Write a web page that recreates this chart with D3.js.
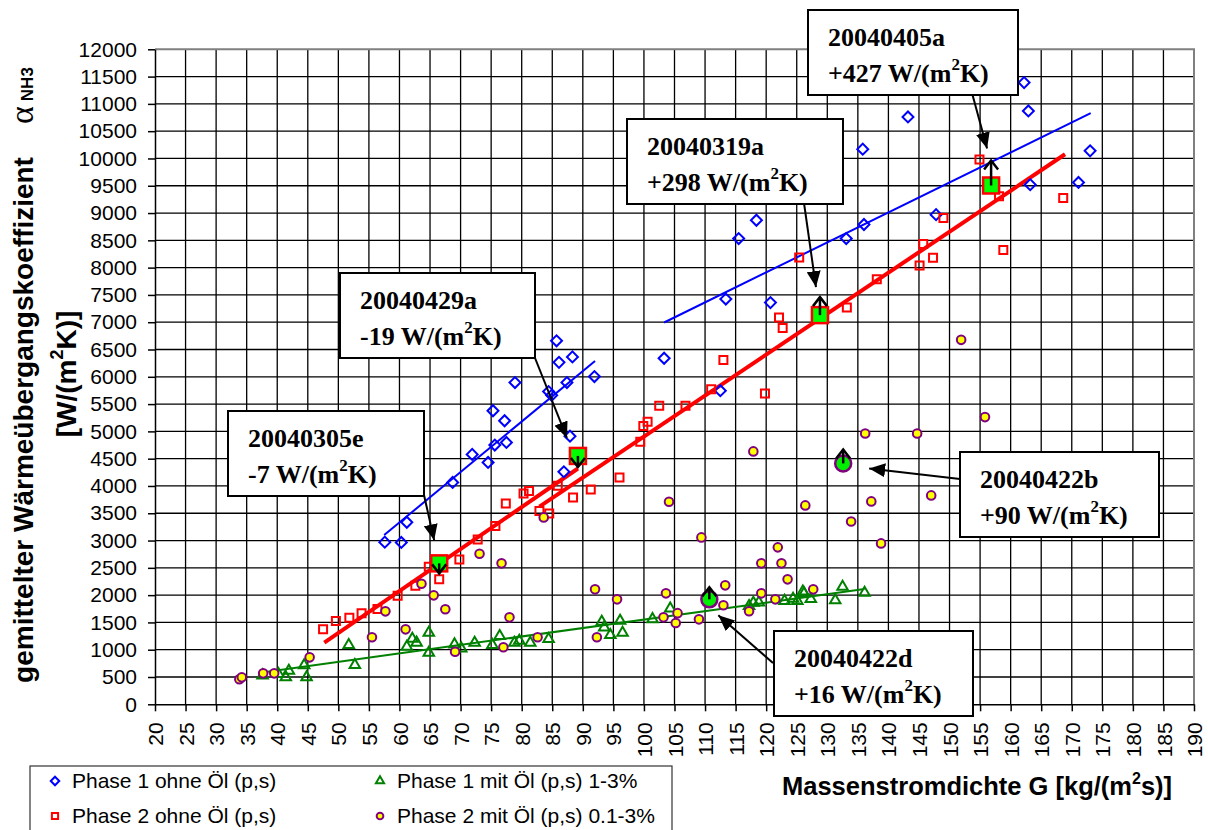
<!DOCTYPE html>
<html>
<head>
<meta charset="utf-8">
<script src="https://cdn.jsdelivr.net/npm/d3@7"></script>
<style>
  body { margin: 0; background: #fff; }
  text { font-family: "Liberation Sans", Arial, sans-serif; }
  .serif { font-family: "Liberation Serif", "Times New Roman", serif; font-weight: bold; }
</style>
</head>
<body>
<svg id="chart" width="1208" height="830"></svg>
<script>

// Tick values for both axes
var xTickValues = d3.range(20, 195, 5);
var yTickValues = d3.range(0, 12500, 500);

// Phase 1 ohne Öl (p,s)  [G, alpha]
var phase1 = [[57.6,2970],[60.3,2965],[61.2,3335],[68.7,4065],[71.9,4578],[74.5,4431],[75.6,4750],
  [75.3,5378],[77.2,5195],[77.5,4797],[78.9,5895],[84.4,5730],[84.9,5660],[85.7,6660],[86.1,6265],
  [87.4,5895],[88.3,6365],[91.9,6005],[87.9,4913],[86.9,4259],[103.3,6340],[112.5,5745],[113.4,7425],
  [120.7,7360],[115.5,8533],[118.4,8868],[133.1,8533],[136.0,8790],[135.8,10170],[143.2,10760],
  [147.8,8970],[162.2,11390],[162.9,10870],[163.2,9520],[171.1,9560],[173.0,10140]];

// Phase 2 ohne Öl (p,s)
var phase2 = [[47.5,1373],[49.6,1525],[51.8,1586],[53.8,1666],[56.4,1745],[59.7,1989],[62.6,2170],
  [64.8,2520],[66.5,2289],[69.8,2655],[72.8,3021],[75.7,3265],[77.4,3680],[80.3,3864],[81.2,3906],
  [82.9,3540],[84.5,3497],[85.9,4003],[88.4,3790],[91.3,3937],[96.0,4155],[99.4,4810],[99.9,5100],
  [100.6,5175],[102.5,5470],[106.8,5470],[111.0,5770],[113.0,6310],[119.8,5695],[122.1,7085],
  [122.7,6896],[125.4,8185],[133.2,7270],[138.1,7785],[145.1,8040],[145.7,8435],[147.3,8180],
  [149.0,8910],[154.9,9980],[158.1,9310],[158.8,8325],[168.6,9275]];

// Phase 1 mit Öl (p,s) 1-3%
var phase1Oil = [[37.6,530],[40.2,555],[41.4,495],[41.9,615],[44.4,715],[44.8,495],[51.7,1085],
  [52.7,720],[61.2,1055],[62.1,1200],[62.8,1130],[64.8,1311],[64.8,945],[69.0,1098],[70.1,1025],
  [72.3,1128],[75.2,1086],[76.4,1250],[78.8,1128],[79.6,1165],[81.4,1128],[84.4,1196],[93.1,1513],
  [93.5,1410],[94.5,1269],[96.1,1531],[96.5,1311],[101.4,1560],[104.3,1755],[117.2,1800],[117.9,1860],
  [118.8,1868],[123.0,1895],[124.4,1934],[125.1,1892],[126.0,2065],[126.2,2033],[127.3,1928],
  [131.3,1905],[132.5,2154],[136.1,2044]];

// Phase 2 mit Öl (p,s) 0.1-3%
var phase2Oil = [[33.8,458],[34.2,494],[37.7,567],[39.5,567],[45.3,860],[55.5,1227],[57.7,1703],
  [61.0,1373],[63.6,2208],[65.6,1996],[67.5,1740],[69.1,963],[73.1,2758],[76.7,2582],[77.0,1044],
  [78.0,1593],[82.6,1227],[83.6,3424],[92.0,2106],[92.3,1227],[95.6,1923],[103.2,1593],[103.6,2033],
  [104.1,3710],[105.2,1490],[105.5,1670],[109.0,1556],[109.4,3058],[113.0,1815],[113.3,2179],
  [117.2,1705],[117.9,4633],[119.2,2033],[119.2,2582],[121.5,1923],[121.9,2875],[122.5,2582],
  [123.5,2289],[126.4,3644],[127.7,2106],[133.9,3348],[136.2,4962],[137.2,3717],[138.8,2948],
  [144.7,4962],[147.0,3827],[151.9,6677],[155.8,5262]];

// Trend lines (start and end points)
var fitPhase1a = [[57.5,3100],[92.0,6290]];
var fitPhase1b = [[103.3,6995],[173.1,10830]];
var fitPhase2a = [[47.7,1130],[89.2,4320]];
var fitPhase2b = [[82.9,3620],[168.9,10077]];
var fitPhase1Oil = [[37.2,580],[136.1,2111]];

// Highlighted measurements and their deviation
var highlightIds = ["20040405a", "20040319a", "20040429a", "20040305e", "20040422b", "20040422d"];
var highlightDelta = ["+427", "+298", "-19", "-7", "+90", "+16"];
var highlightPoints = [[156.8,9505],[128.8,7130],[89.2,4550],[66.5,2582],[132.6,4413],[110.7,1923]];
var highlightShape = ["square", "square", "square", "square", "circle", "circle"];

// Layout for the annotation boxes: box left/top/width, arrow start, arrow tip offset, shift arrow length
var boxLayout = [
  {x: 808, y: 10, w: 210, ax: 972, ay: 93, tx: -4, ty: -37, len: -25},
  {x: 627, y: 119, w: 216, ax: 804, ay: 203, tx: -4, ty: -28, len: -18},
  {x: 340, y: 273, w: 195, ax: 535, ay: 358, tx: -11, ty: -18, len: 11},
  {x: 228, y: 411, w: 196, ax: 424, ay: 495, tx: -5, ty: -23, len: 10},
  {x: 960, y: 452, w: 199, ax: 960, ay: 479, tx: 26, ty: 5, len: -14},
  {x: 774, y: 631, w: 199, ax: 773, ay: 663, tx: 9, ty: 16, len: -12}
];

var margin = {left: 155, right: 1194, top: 49.3, bottom: 704.3};

var x = d3.scaleLinear().domain([20, 190]).range([margin.left, margin.right]);
var y = d3.scaleLinear().domain([0, 12000]).range([margin.bottom, margin.top]);

var svg = d3.select("#chart");

// Arrow head definition
svg.append("defs").append("marker")
    .attr("id", "head")
    .attr("viewBox", "0 0 16 14")
    .attr("refX", 16)
    .attr("refY", 7)
    .attr("markerWidth", 16)
    .attr("markerHeight", 14)
    .attr("markerUnits", "userSpaceOnUse")
    .attr("orient", "auto")
  .append("path")
    .attr("d", "M0,0 L16,7 L0,14 Z")
    .attr("fill", "#000");

// Grid lines
var grid = svg.append("g");
grid.selectAll(".vgrid")
    .data(xTickValues.filter(function(d) { return d > 20 && d < 190; }))
    .enter().append("line")
    .attr("x1", function(d) { return x(d); })
    .attr("x2", function(d) { return x(d); })
    .attr("y1", y(0))
    .attr("y2", y(12000))
    .attr("stroke", "#000")
    .attr("stroke-width", 1.3);
grid.selectAll(".hgrid")
    .data(yTickValues.filter(function(d) { return d > 0 && d < 12000; }))
    .enter().append("line")
    .attr("x1", x(20))
    .attr("x2", x(190))
    .attr("y1", function(d) { return y(d); })
    .attr("y2", function(d) { return y(d); })
    .attr("stroke", "#000")
    .attr("stroke-width", 1.3);

// Grey frame on top and right
svg.append("path")
    .attr("d", "M" + x(20) + "," + y(12000) + "H" + x(190) + "V" + y(0))
    .attr("fill", "none")
    .attr("stroke", "#808080")
    .attr("stroke-width", 2);

// Y axis
var yAxis = svg.append("g")
    .attr("transform", "translate(" + x(20) + ",0)")
    .call(d3.axisLeft(y).tickValues(yTickValues).tickFormat(d3.format("d"))
        .tickSize(7).tickSizeOuter(0).tickPadding(11));
yAxis.selectAll("text").style("font-size", "21px").attr("fill", "#000");
yAxis.selectAll("line, path").attr("stroke", "#000").attr("stroke-width", 1.5);

// X axis
var xAxis = svg.append("g")
    .attr("transform", "translate(0," + y(0) + ")")
    .call(d3.axisBottom(x).tickValues(xTickValues).tickSize(7).tickSizeOuter(0));
xAxis.selectAll("text")
    .style("font-size", "21px")
    .attr("fill", "#000")
    .attr("transform", "rotate(-90)")
    .attr("text-anchor", "end")
    .attr("x", -18)
    .attr("y", 0)
    .attr("dy", "0.36em");
xAxis.selectAll("line, path").attr("stroke", "#000").attr("stroke-width", 1.5);

// Trend lines
var line = d3.line().x(function(d) { return x(d[0]); }).y(function(d) { return y(d[1]); });
var fits = [
  {d: fitPhase1a, c: "#0000ff", w: 2},
  {d: fitPhase1b, c: "#0000ff", w: 2},
  {d: fitPhase2a, c: "#ff0000", w: 4},
  {d: fitPhase2b, c: "#ff0000", w: 4},
  {d: fitPhase1Oil, c: "#008000", w: 2}
];
svg.selectAll(".fit")
    .data(fits)
    .enter().append("path")
    .attr("d", function(d) { return line(d.d); })
    .attr("fill", "none")
    .attr("stroke", function(d) { return d.c; })
    .attr("stroke-width", function(d) { return d.w; });

// Marker definitions
var series = [
  {name: "Phase 1 ohne Öl (p,s)", data: phase1, type: d3.symbolSquare, size: 60, rot: 45, stroke: "#0000ff", fill: "none"},
  {name: "Phase 2 ohne Öl (p,s)", data: phase2, type: d3.symbolSquare, size: 64, rot: 0, stroke: "#ff0000", fill: "none"},
  {name: "Phase 1 mit Öl (p,s) 1-3%", data: phase1Oil, type: d3.symbolTriangle, size: 48, rot: 0, stroke: "#008000", fill: "none"},
  {name: "Phase 2 mit Öl (p,s) 0.1-3%", data: phase2Oil, type: d3.symbolCircle, size: 58, rot: 0, stroke: "#800080", fill: "#ffff00"}
];

series.forEach(function(s) {
    var sym = d3.symbol().type(s.type).size(s.size);
    svg.append("g").selectAll("path")
        .data(s.data)
        .enter().append("path")
        .attr("d", sym)
        .attr("transform", function(d) {
            return "translate(" + x(d[0]) + "," + y(d[1]) + ") rotate(" + s.rot + ")";
        })
        .attr("fill", s.fill)
        .attr("stroke", s.stroke)
        .attr("stroke-width", 2);
});

// Highlighted measurements
highlightPoints.forEach(function(p, i) {
    var cx = x(p[0]), cy = y(p[1]);
    var L = boxLayout[i];
    if (highlightShape[i] == "square") {
        svg.append("rect")
            .attr("x", cx - 8).attr("y", cy - 8)
            .attr("width", 16).attr("height", 16)
            .attr("fill", "#00ff00")
            .attr("stroke", "#ff0000")
            .attr("stroke-width", 2.5);
    } else {
        svg.append("circle")
            .attr("cx", cx).attr("cy", cy).attr("r", 8)
            .attr("fill", "#00ee00")
            .attr("stroke", "#800080")
            .attr("stroke-width", 2.5);
    }

    // Shift arrow (open head)
    var ey = cy + L.len;
    var dir = L.len < 0 ? 1 : -1;
    var shift = svg.append("g").attr("stroke", "#000").attr("stroke-width", 2.5).attr("fill", "none");
    shift.append("line").attr("x1", cx).attr("y1", cy).attr("x2", cx).attr("y2", ey);
    shift.append("path")
        .attr("d", "M" + (cx - 7) + "," + (ey + dir * 9) + "L" + cx + "," + ey + "L" + (cx + 7) + "," + (ey + dir * 9));

    // Pointer arrow from box
    svg.append("line")
        .attr("x1", L.ax).attr("y1", L.ay)
        .attr("x2", cx + L.tx).attr("y2", cy + L.ty)
        .attr("stroke", "#000")
        .attr("stroke-width", 2)
        .attr("marker-end", "url(#head)");
});

// Annotation boxes
highlightIds.forEach(function(id, i) {
    var L = boxLayout[i];
    var g = svg.append("g");
    g.append("rect")
        .attr("x", L.x).attr("y", L.y)
        .attr("width", L.w).attr("height", 85)
        .attr("fill", "#fff")
        .attr("stroke", "#000")
        .attr("stroke-width", 2);
    g.append("text")
        .attr("class", "serif")
        .attr("x", L.x + 20).attr("y", L.y + 36)
        .style("font-size", "26px")
        .text(id);
    var t = g.append("text")
        .attr("class", "serif")
        .attr("x", L.x + 20).attr("y", L.y + 72)
        .style("font-size", "26px");
    t.append("tspan").text(highlightDelta[i] + " W/(m");
    t.append("tspan").attr("dy", -12).style("font-size", "17px").text("2");
    t.append("tspan").attr("dy", 12).text("K)");
});

// Y axis title
svg.append("text")
    .attr("transform", "translate(33,420) rotate(-90)")
    .attr("text-anchor", "middle")
    .style("font-size", "28px")
    .style("font-weight", "bold")
    .text("gemittelter Wärmeübergangskoeffizient");

var yUnit = svg.append("text")
    .attr("transform", "translate(76,374) rotate(-90)")
    .attr("text-anchor", "middle")
    .style("font-size", "28px")
    .style("font-weight", "bold");
yUnit.append("tspan").text("[W/(m");
yUnit.append("tspan").attr("dy", -13).style("font-size", "18px").text("2");
yUnit.append("tspan").attr("dy", 13).text("K)]");

var alpha = svg.append("text")
    .attr("transform", "translate(33,124) rotate(-90)")
    .attr("text-anchor", "start");
alpha.append("tspan")
    .style("font-family", "'Liberation Serif', serif")
    .style("font-size", "34px")
    .text("α");
alpha.append("tspan")
    .attr("dx", 5)
    .style("font-size", "17px")
    .style("font-weight", "bold")
    .text("NH3");

// X axis title
var xTitle = svg.append("text")
    .attr("x", 782)
    .attr("y", 795)
    .style("font-size", "25.5px")
    .style("font-weight", "bold");
xTitle.append("tspan").text("Massenstromdichte G [kg/(m");
xTitle.append("tspan").attr("dy", -11).style("font-size", "16px").text("2");
xTitle.append("tspan").attr("dy", 11).text("s)]");

// Legend
var legend = svg.append("g");
legend.append("rect")
    .attr("x", 30).attr("y", 766)
    .attr("width", 642).attr("height", 80)
    .attr("fill", "#fff")
    .attr("stroke", "#333")
    .attr("stroke-width", 1.2);

var legendPos = [[55, 781], [55, 816], [380, 781], [380, 816]];
series.forEach(function(s, i) {
    var p = legendPos[i];
    var sym = d3.symbol().type(s.type).size(s.size * 0.6);
    legend.append("path")
        .attr("d", sym)
        .attr("transform", "translate(" + p[0] + "," + p[1] + ") rotate(" + s.rot + ")")
        .attr("fill", s.fill)
        .attr("stroke", s.stroke)
        .attr("stroke-width", 2);
    legend.append("text")
        .attr("x", p[0] + 17)
        .attr("y", p[1] + 7)
        .style("font-size", "21px")
        .text(s.name);
});

</script>
</body>
</html>
